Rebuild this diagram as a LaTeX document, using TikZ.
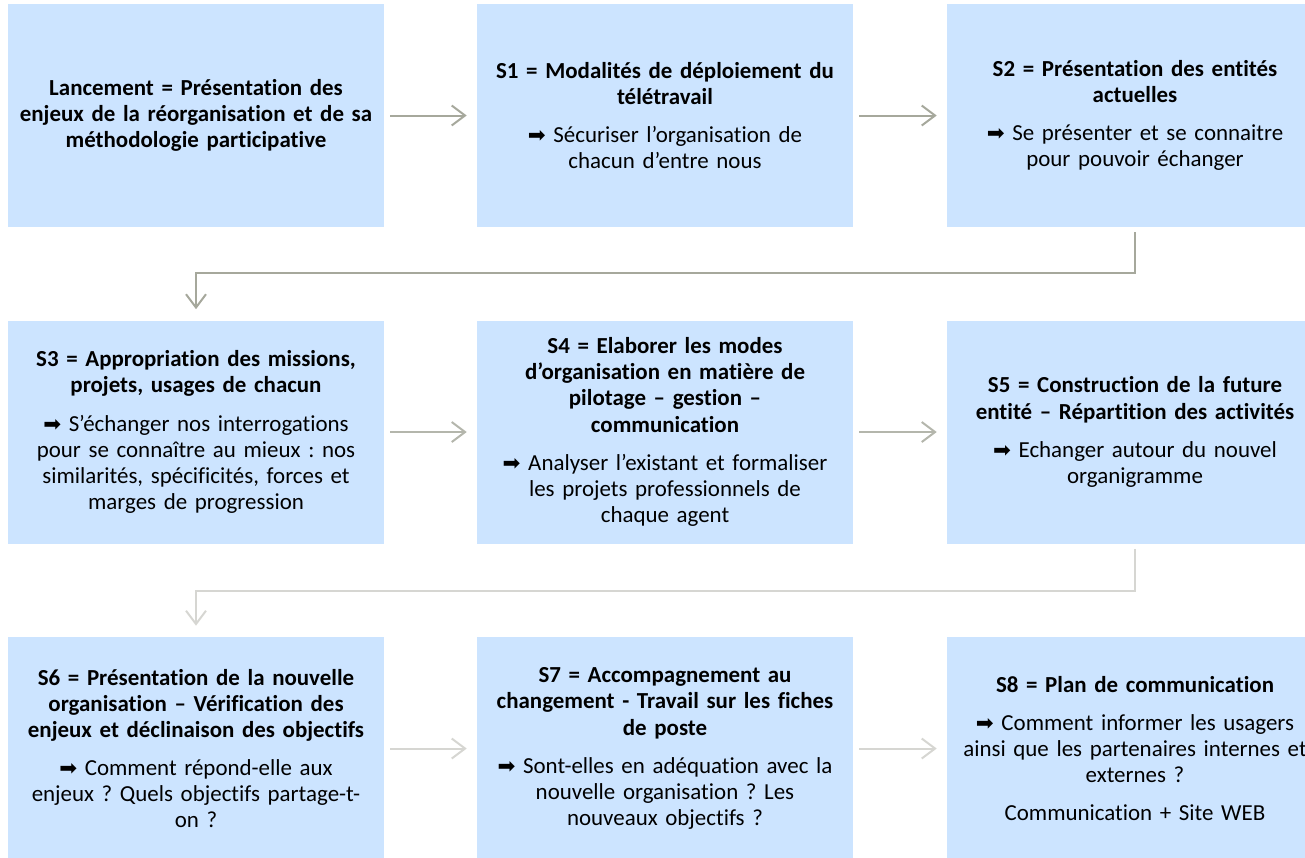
\documentclass[tikz,border=0pt]{standalone}
\usepackage{fontspec}
\setmainfont{Carlito}[Ligatures={NoCommon}]
\newfontfamily\symbfleche{DejaVu Sans}
\usetikzlibrary{arrows.meta}
\frenchspacing

\definecolor{bleuboite}{RGB}{204,228,255}
\definecolor{grisA}{RGB}{166,168,156}
\definecolor{grisB}{RGB}{180,182,172}
\definecolor{grisC}{RGB}{214,214,210}
\newcommand{\puce}{{\symbfleche\fontsize{16}{16}\selectfont ➡}\ }

\begin{document}
\begin{tikzpicture}[x=0.75pt,y=0.75pt,yscale=-1,xscale=1,
	etape/.style={fill=bleuboite, minimum width=282pt, minimum height=167.25pt, text width=276pt, align=center, inner sep=0pt, font=\fontsize{17.2}{19.6}\selectfont},
	lien/.style={line width=1.5pt, -{Straight Barb[length=10pt,width=15pt]}, shorten <=4.5pt, shorten >=7.5pt},
	coude/.style={line width=1.5pt, -{Straight Barb[length=10pt,width=15pt]}, shorten <=3.75pt, shorten >=8.25pt}]
	\clip (0,0) rectangle (1305,857);
	% ligne 1
	\node[etape] (lanc) at (196,115.5) {\textbf{Lancement = Présentation des\\enjeux de la réorganisation et de sa\\méthodologie participative}};
	\node[etape] (s1) at (665,115.5) {\textbf{S1 = Modalités de déploiement du\\télétravail}\\[9pt]\puce Sécuriser l’organisation de\\chacun d’entre nous};
	\node[etape] (s2) at (1135,115.5) {\textbf{S2 = Présentation des entités\\actuelles}\\[9pt]\puce Se présenter et se connaitre\\pour pouvoir échanger};
	% ligne 2
	\node[etape] (s3) at (196,432) {\textbf{S3 = Appropriation des missions,\\projets, usages de chacun}\\[9pt]\puce S’échanger nos interrogations\\pour se connaître au mieux : nos\\similarités, spécificités, forces et\\marges de progression};
	\node[etape] (s4) at (665,432) {\textbf{S4 = Elaborer les modes\\d’organisation en matière de\\pilotage – gestion –\\communication}\\[9pt]\puce Analyser l’existant et formaliser\\les projets professionnels de\\chaque agent};
	\node[etape] (s5) at (1135,432) {\textbf{S5 = Construction de la future\\entité – Répartition des activités}\\[9pt]\puce Echanger autour du nouvel\\organigramme};
	% ligne 3
	\node[etape] (s6) at (196,748.5) {\textbf{S6 = Présentation de la nouvelle\\organisation – Vérification des\\enjeux et déclinaison des objectifs}\\[9pt]\puce Comment répond-elle aux\\enjeux ? Quels objectifs partage-t-\\on ?};
	\node[etape] (s7) at (665,748.5) {\textbf{S7 = Accompagnement au\\changement - Travail sur les fiches\\de poste}\\[9pt]\puce Sont-elles en adéquation avec la\\nouvelle organisation ? Les\\nouveaux objectifs ?};
	\node[etape] (s8) at (1135,748.5) {\textbf{S8 = Plan de communication}\\[9pt]\puce Comment informer les usagers\\ainsi que les partenaires internes et\\externes ?\\[9pt]Communication + Site WEB};
	% liens
	\draw[lien, grisA] (lanc) -- (s1);
	\draw[lien, grisA] (s1) -- (s2);
	\draw[coude, grisA] (s2.south) -- ++(0,46) -| (s3.north);
	\draw[lien, grisB] (s3) -- (s4);
	\draw[lien, grisB] (s4) -- (s5);
	\draw[coude, grisC] (s5.south) -- ++(0,47) -| (s6.north);
	\draw[lien, grisC] (s6) -- (s7);
	\draw[lien, grisC] (s7) -- (s8);
\end{tikzpicture}
\end{document}
